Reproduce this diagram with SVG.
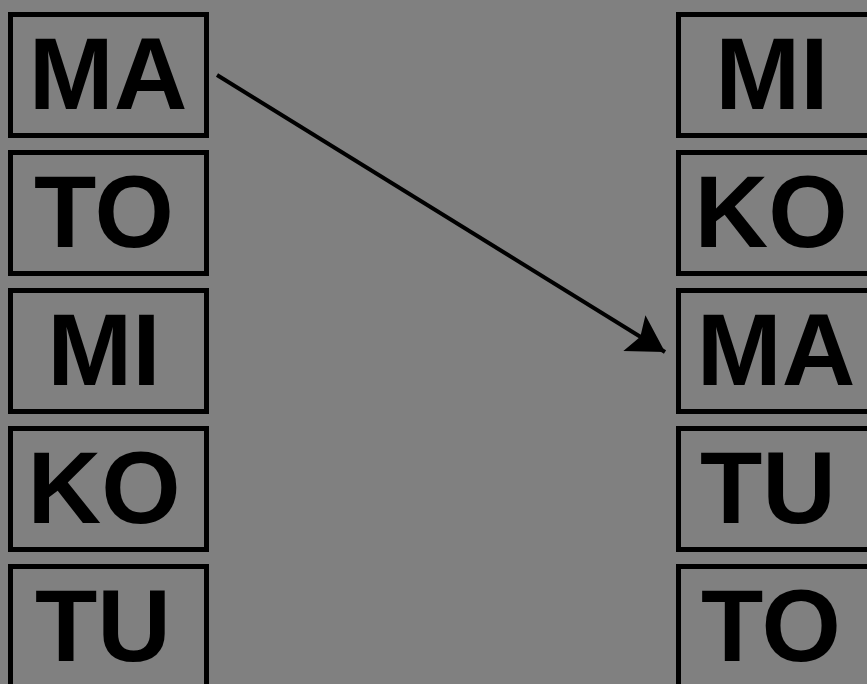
<svg xmlns="http://www.w3.org/2000/svg" width="867" height="684" viewBox="0 0 867 684">
<defs>
<style>
.box{fill:none;stroke:#000;stroke-width:5}
.lbl{font-family:"Liberation Sans",Arial,sans-serif;font-weight:bold;font-size:102px;fill:#000;text-anchor:middle}
.conn{stroke:#000;stroke-width:4;fill:none}
</style>
<marker id="arrow" markerUnits="userSpaceOnUse" markerWidth="42" markerHeight="46" viewBox="-38 -23 42 46" refX="0" refY="0" orient="auto">
<path d="M0,0 L-36,-21 L-29,0 L-36,21 Z" fill="#000"/>
</marker>
</defs>
<rect width="867" height="684" fill="#808080"/>
<g id="left-MA"><rect class="box" x="10.5" y="14.5" width="196" height="121"/><text class="lbl" x="108" y="109">MA</text></g>
<g id="left-TO"><rect class="box" x="10.5" y="152.5" width="196" height="121"/><text class="lbl" x="104" y="247">TO</text></g>
<g id="left-MI"><rect class="box" x="10.5" y="290.5" width="196" height="121"/><text class="lbl" x="104" y="385">MI</text></g>
<g id="left-KO"><rect class="box" x="10.5" y="428.5" width="196" height="121"/><text class="lbl" x="104" y="523">KO</text></g>
<g id="left-TU"><rect class="box" x="10.5" y="566.5" width="196" height="121"/><text class="lbl" x="103" y="661">TU</text></g>
<g id="right-MI"><rect class="box" x="678.5" y="14.5" width="196" height="121"/><text class="lbl" x="772" y="109">MI</text></g>
<g id="right-KO"><rect class="box" x="678.5" y="152.5" width="196" height="121"/><text class="lbl" x="771" y="247">KO</text></g>
<g id="right-MA"><rect class="box" x="678.5" y="290.5" width="196" height="121"/><text class="lbl" x="776" y="385">MA</text></g>
<g id="right-TU"><rect class="box" x="678.5" y="428.5" width="196" height="121"/><text class="lbl" x="768" y="523">TU</text></g>
<g id="right-TO"><rect class="box" x="678.5" y="566.5" width="196" height="121"/><text class="lbl" x="771" y="661">TO</text></g>
<g id="connectors">
<line class="conn" x1="217" y1="75" x2="665" y2="352" marker-end="url(#arrow)"/>
</g>
</svg>
